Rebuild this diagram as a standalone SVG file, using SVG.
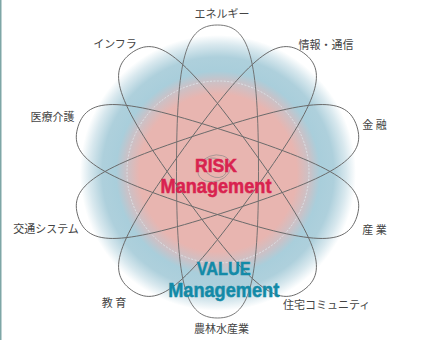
<svg xmlns="http://www.w3.org/2000/svg" width="439" height="340" viewBox="0 0 439 340">
<style>
.lbl{font-family:"Noto Sans CJK JP","Noto Sans",sans-serif;font-size:11px;fill:#444;text-anchor:middle}
.big{font-family:"Liberation Sans",Arial,sans-serif;font-weight:bold;text-anchor:middle;stroke-width:0.5}
.risk{fill:#d9224f;stroke:#d9224f}
.value{fill:#138aa7;stroke:#138aa7}
.petal{fill:none;stroke:#6a6a6a;stroke-width:0.9}
.core{fill:none;stroke:#888;stroke-width:0.6}
</style>
<defs>
<radialGradient id="halo" cx="218" cy="173" r="138" gradientUnits="userSpaceOnUse">
<stop offset="0" stop-color="#e8b5b0"/>
<stop offset="0.57" stop-color="#e8b5b0"/>
<stop offset="0.67" stop-color="#c9c2c8"/>
<stop offset="0.74" stop-color="#a9cedb"/>
<stop offset="0.84" stop-color="#aed0dc"/>
<stop offset="0.93" stop-color="#d8e8ee"/>
<stop offset="1" stop-color="#ffffff"/>
</radialGradient>
<path id="petal" d="M0,-146.5 C32.1,-146.5 41,-114.7 41,0 C41,114.7 32.1,146.5 0,146.5 C-32.1,146.5 -41,114.7 -41,0 C-41,-114.7 -32.1,-146.5 0,-146.5 Z"/>
</defs>
<rect x="0" y="0" width="439" height="340" fill="#ffffff"/>
<rect x="0" y="0" width="1.5" height="340" fill="#7ea6a6"/>
<g id="background">
<circle cx="218" cy="173" r="138" fill="url(#halo)"/>
<circle cx="218" cy="172" r="91" fill="none" stroke="#e4eef2" stroke-width="0.7" stroke-dasharray="2 1.5"/>
</g>
<g id="connectors" transform="translate(217.5,171.5)">
<use href="#petal" class="petal"/>
<use href="#petal" class="petal" transform="rotate(36)"/>
<use href="#petal" class="petal" transform="rotate(72)"/>
<use href="#petal" class="petal" transform="rotate(108)"/>
<use href="#petal" class="petal" transform="rotate(144)"/>
<ellipse cx="-2" cy="-4" rx="17" ry="13" class="core" transform="rotate(-20)"/>
<ellipse cx="-4" cy="-2" rx="12" ry="9" class="core" transform="rotate(30)"/>
</g>
<g id="risk">
<text x="216" y="171.5" class="big risk" font-size="19" textLength="42" lengthAdjust="spacingAndGlyphs">RISK</text>
<text x="216" y="193" class="big risk" font-size="19.5" textLength="111" lengthAdjust="spacingAndGlyphs">Management</text>
</g>
<g id="value">
<text x="223.7" y="275" class="big value" font-size="19" textLength="54" lengthAdjust="spacingAndGlyphs">VALUE</text>
<text x="223.7" y="296.5" class="big value" font-size="19.5" textLength="111" lengthAdjust="spacingAndGlyphs">Management</text>
</g>
<g id="n-energy"><text x="222" y="18" class="lbl">エネルギー</text></g>
<g id="n-infra"><text x="115" y="47.5" class="lbl">インフラ</text></g>
<g id="n-info"><text x="326" y="48.5" class="lbl">情報・通信</text></g>
<g id="n-medical"><text x="52.5" y="120.5" class="lbl">医療介護</text></g>
<g id="n-finance"><text x="374.5" y="129" class="lbl">金 融</text></g>
<g id="n-traffic"><text x="46" y="233" class="lbl">交通システム</text></g>
<g id="n-industry"><text x="374.5" y="233.5" class="lbl">産 業</text></g>
<g id="n-education"><text x="114" y="307" class="lbl">教 育</text></g>
<g id="n-housing"><text x="326.7" y="309" class="lbl">住宅コミュニティ</text></g>
<g id="n-agri"><text x="221.5" y="332.5" class="lbl">農林水産業</text></g>
</svg>
